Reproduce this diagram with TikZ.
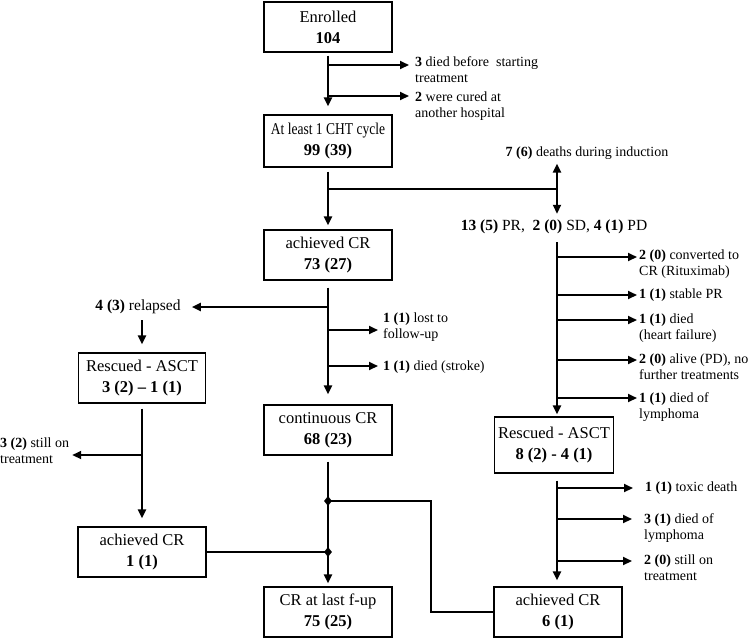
\documentclass[tikz,border=0pt]{standalone}
\usepackage{graphicx}
\usepackage{fontspec}
\setmainfont{Liberation Serif}
\usepackage{tikz}
\usetikzlibrary{positioning}
\usetikzlibrary{arrows.meta}
\usetikzlibrary{shapes.geometric}

\tikzset{
    box/.style={draw, line width=1.2pt, minimum width=128pt, minimum height=50pt,
        align=center, inner sep=2pt, font=\fontsize{16.5}{21}\selectfont},
    note/.style={inner sep=0pt, align=left, font=\fontsize{14}{16}\selectfont},
    bignote/.style={inner sep=0pt, font=\fontsize{15.5}{18}\selectfont},
    link/.style={line width=2pt},
    flow/.style={line width=2pt, -{Triangle[length=9pt, width=8pt]}},
    dot/.style={diamond, fill, inner sep=0pt, minimum width=8pt, minimum height=10pt}
}

\begin{document}
\begin{tikzpicture}[x=1pt, y=-1pt]
    \useasboundingbox (0,0) rectangle (750,638);

    % Main column
    \node[box] (enrol) at (328,27) {Enrolled\\\textbf{104}};
    \node[box, minimum height=52pt] (cht) at (328,141) {\scalebox{0.82}[1]{At least 1 CHT cycle}\\\textbf{99 (39)}};
    \node[box] (cr) at (328,255) {achieved CR\\\textbf{73 (27)}};
    \node[box] (ccr) at (328,430) {continuous CR\\\textbf{68 (23)}};
    \node[box] (last) at (328,612) {CR at last f-up\\\textbf{75 (25)}};

    % Relapse column
    \node[bignote] (relap) at (138,307) {\textbf{4 (3)} relapsed};
    \node[box, minimum width=127pt] (resL) at (142,378) {Rescued - ASCT\\\textbf{3 (2) -- 1 (1)}};
    \node[box] (crL) at (142,552) {achieved CR\\\textbf{1 (1)}};

    % Induction failure column
    \node[note] (dead) at (587,153) {\textbf{7 (6)} deaths during induction};
    \node[bignote] (resp) at (554,227) {\textbf{13 (5)} PR,\ \ \textbf{2 (0)} SD, \textbf{4 (1)} PD};
    \node[box, minimum width=119pt, minimum height=56pt] (resR) at (554,445) {Rescued - ASCT\\\textbf{8 (2) - 4 (1)}};
    \node[box] (crR) at (558,612) {achieved CR\\\textbf{6 (1)}};

    % Side notes
    \node[note, anchor=north west] (dbs) at (415,56) {\textbf{3} died before\ \ starting\\treatment};
    \node[note, anchor=north west] (cured) at (415,92) {\textbf{2} were cured at\\another hospital};
    \node[note, anchor=north west] (lost) at (383,313) {\textbf{1 (1)} lost to\\follow-up};
    \node[note, anchor=north west] (stroke) at (383,361) {\textbf{1 (1)} died (stroke)};
    \node[note, anchor=north west] (stillL) at (0,438) {\textbf{3 (2)} still on\\treatment};
    \node[note, anchor=north west] (conv) at (639,250) {\textbf{2 (0)} converted to\\CR (Rituximab)};
    \node[note, anchor=north west] (stable) at (639,289) {\textbf{1 (1)} stable PR};
    \node[note, anchor=north west] (heart) at (639,314) {\textbf{1 (1)} died\\(heart failure)};
    \node[note, anchor=north west] (alive) at (639,354) {\textbf{2 (0)} alive (PD), no\\further treatments};
    \node[note, anchor=north west] (lymph) at (639,392) {\textbf{1 (1)} died of\\lymphoma};
    \node[note, anchor=north west] (toxic) at (645,482) {\textbf{1 (1)} toxic death};
    \node[note, anchor=north west] (lymphR) at (644,513) {\textbf{3 (1)} died of\\lymphoma};
    \node[note, anchor=north west] (stillR) at (644,555) {\textbf{2 (0)} still on\\treatment};

    % Branch points
    \coordinate (a1) at (328,65);
    \coordinate (a2) at (328,96);
    \coordinate (a3) at (328,189);
    \coordinate (split) at (557,189);
    \coordinate (c1) at (328,307);
    \coordinate (c2) at (328,330);
    \coordinate (c3) at (328,366);
    \coordinate (e1) at (142,455);
    \coordinate (r1) at (557,257);
    \coordinate (r2) at (557,295);
    \coordinate (r3) at (557,320);
    \coordinate (r4) at (557,360);
    \coordinate (r5) at (557,398);
    \coordinate (s1) at (557,488);
    \coordinate (s2) at (557,519);
    \coordinate (s3) at (557,561);
    \coordinate (bend) at (431,501);

    % Enrolment to induction
    \draw[flow, shorten <=3pt, shorten >=8pt] (enrol) -- (cht);
    \draw[flow, shorten >=6pt] (a1) -- (a1 -| dbs.west);
    \draw[flow, shorten >=6pt] (a2) -- (a2 -| cured.west);

    % Induction outcome
    \draw[flow, shorten <=4pt, shorten >=4pt] (cht) -- (cr);
    \draw[link] (a3) -- (split);
    \draw[flow, shorten >=4pt] (split) -- (split |- dead.south);
    \draw[flow, shorten >=6pt] (split) -- (split |- resp.north);

    % Complete responders
    \draw[flow, shorten <=7pt, shorten >=10pt] (cr) -- (ccr);
    \draw[flow, shorten >=11pt] (c1) -- (relap.east);
    \draw[flow, shorten >=5pt] (c2) -- (c2 -| lost.west);
    \draw[flow, shorten >=5pt] (c3) -- (c3 -| stroke.west);

    % Relapses
    \draw[flow, shorten <=6pt, shorten >=8pt] (relap.south -| resL) -- (resL);
    \draw[flow, shorten <=5pt, shorten >=8pt] (resL) -- (crL);
    \draw[flow, shorten >=3pt] (e1) -- (e1 -| stillL.east);

    % Partial / no response
    \draw[flow, shorten <=8pt, shorten >=2pt] (split |- resp.south) -- (split |- resR.north);
    \draw[flow, shorten >=2pt] (r1) -- (r1 -| conv.west);
    \draw[flow, shorten >=2pt] (r2) -- (r2 -| stable.west);
    \draw[flow, shorten >=2pt] (r3) -- (r3 -| heart.west);
    \draw[flow, shorten >=2pt] (r4) -- (r4 -| alive.west);
    \draw[flow, shorten >=2pt] (r5) -- (r5 -| lymph.west);
    \draw[flow, shorten <=7pt, shorten >=6pt] (split |- resR.south) -- (split |- crR.north);
    \draw[flow, shorten >=12pt] (s1) -- (s1 -| toxic.west);
    \draw[flow, shorten >=12pt] (s2) -- (s2 -| lymphR.west);
    \draw[flow, shorten >=12pt] (s3) -- (s3 -| stillR.west);

    % Final count
    \draw[flow, shorten <=6pt, shorten >=3pt] (ccr) -- (last);
    \node[dot] (d1) at (328,501) {};
    \node[dot] (d2) at (328,552) {};
    \draw[link] (d1.center) -- (bend) |- (crR.west);
    \draw[link] (crL.east) -- (d2.center);
\end{tikzpicture}
\end{document}
